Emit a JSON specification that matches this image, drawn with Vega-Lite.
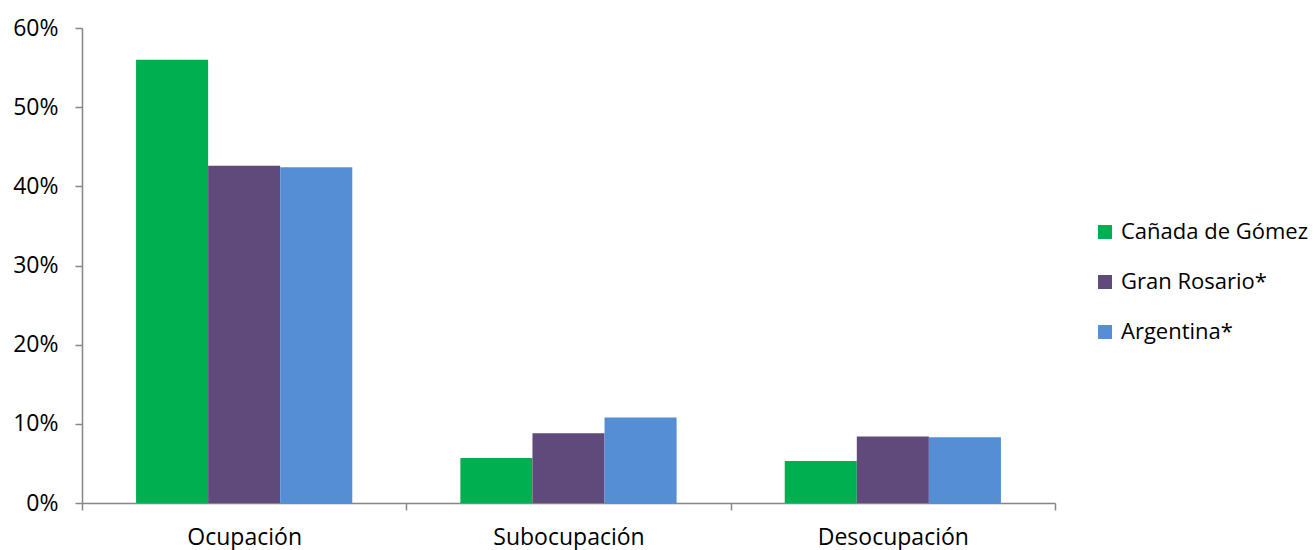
{
  "$schema": "https://vega.github.io/schema/vega-lite/v6.json",
  "autosize": "none",
  "padding": {"left": 82, "top": 28, "right": 261, "bottom": 47},
  "width": 973,
  "height": 475,
  "background": "white",
  "data": {
    "values": [
      {"categoria": "Ocupación", "region": "Cañada de Gómez", "valor": 0.56},
      {"categoria": "Ocupación", "region": "Gran Rosario*", "valor": 0.426},
      {"categoria": "Ocupación", "region": "Argentina*", "valor": 0.424},
      {"categoria": "Subocupación", "region": "Cañada de Gómez", "valor": 0.057},
      {"categoria": "Subocupación", "region": "Gran Rosario*", "valor": 0.088},
      {"categoria": "Subocupación", "region": "Argentina*", "valor": 0.108},
      {"categoria": "Desocupación", "region": "Cañada de Gómez", "valor": 0.053},
      {"categoria": "Desocupación", "region": "Gran Rosario*", "valor": 0.084},
      {"categoria": "Desocupación", "region": "Argentina*", "valor": 0.083}
    ]
  },
  "mark": {"type": "bar"},
  "encoding": {
    "x": {
      "field": "categoria",
      "type": "nominal",
      "sort": ["Ocupación", "Subocupación", "Desocupación"],
      "scale": {"paddingInner": 0, "paddingOuter": 0},
      "axis": {
        "title": null,
        "labelAngle": 0,
        "tickBand": "extent",
        "domainColor": "#868686",
        "domainWidth": 1.5,
        "tickColor": "#868686",
        "tickWidth": 1.5,
        "tickSize": 7,
        "labelPadding": 16,
        "labelFont": "Open Sans",
        "labelFontSize": 23,
        "labelColor": "#000000",
        "grid": false
      }
    },
    "xOffset": {
      "field": "region",
      "type": "nominal",
      "sort": ["Cañada de Gómez", "Gran Rosario*", "Argentina*"],
      "scale": {"paddingInner": 0, "paddingOuter": 0.75}
    },
    "y": {
      "field": "valor",
      "type": "quantitative",
      "scale": {"domain": [0, 0.6], "nice": false},
      "axis": {
        "title": null,
        "format": ".0%",
        "values": [0, 0.1, 0.2, 0.3, 0.4, 0.5, 0.6],
        "grid": false,
        "domainColor": "#868686",
        "domainWidth": 1.5,
        "tickColor": "#868686",
        "tickWidth": 1.5,
        "tickSize": 7,
        "labelPadding": 17,
        "labelFont": "Open Sans",
        "labelFontSize": 23,
        "labelColor": "#000000"
      }
    },
    "color": {
      "field": "region",
      "type": "nominal",
      "sort": ["Cañada de Gómez", "Gran Rosario*", "Argentina*"],
      "scale": {
        "domain": ["Cañada de Gómez", "Gran Rosario*", "Argentina*"],
        "range": ["#00B050", "#604A7B", "#558ED5"]
      },
      "legend": {
        "title": null,
        "orient": "none",
        "legendX": 1012,
        "legendY": 193,
        "symbolType": "square",
        "symbolSize": 196,
        "symbolStrokeWidth": 0,
        "labelFont": "Open Sans",
        "labelFontSize": 22,
        "labelColor": "#000000",
        "labelLimit": 300,
        "rowPadding": 28,
        "labelOffset": 5
      }
    }
  },
  "config": {
    "view": {"stroke": null},
    "font": "Open Sans"
  }
}
